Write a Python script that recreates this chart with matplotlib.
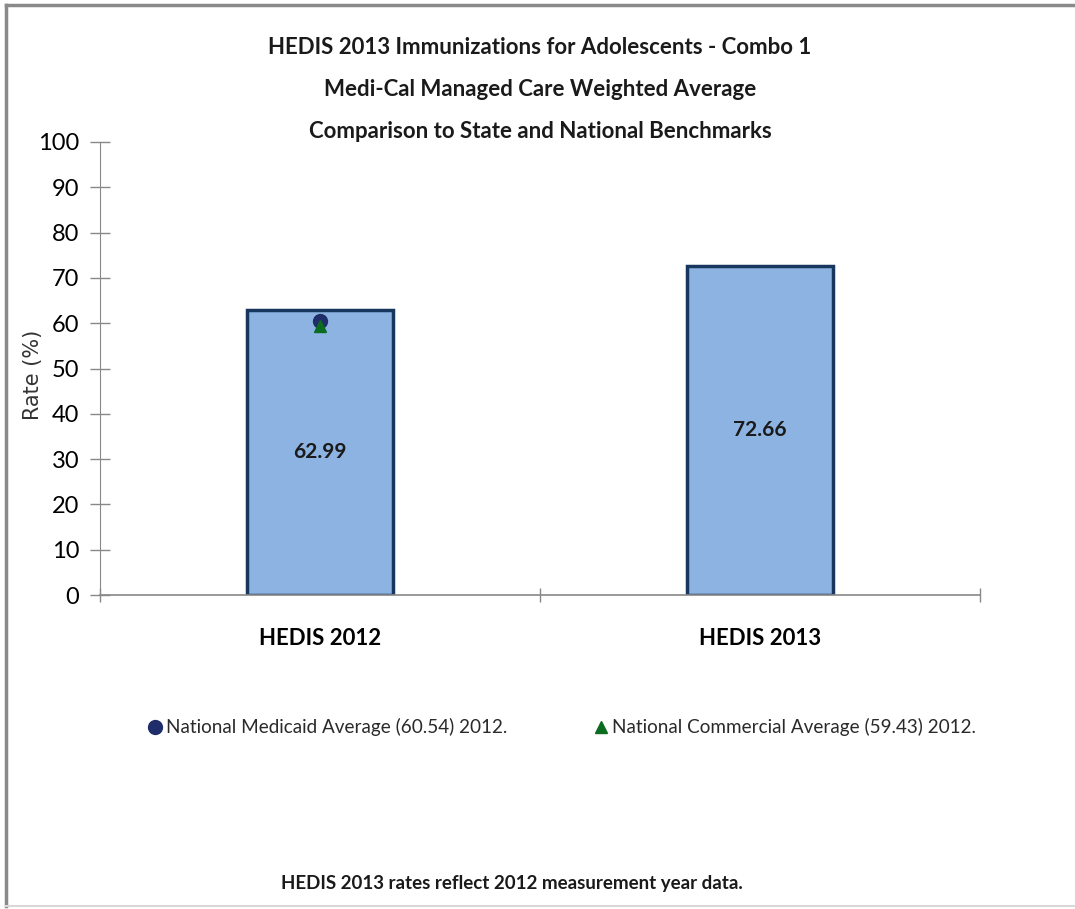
import matplotlib.pyplot as plt
from matplotlib.lines import Line2D

plt.rcParams['font.family'] = ['Lato', 'DejaVu Sans']

categories = ['HEDIS 2012', 'HEDIS 2013']
rates = [62.99, 72.66]
medicaid_avg = 60.54
commercial_avg = 59.43
yticks = list(range(0, 101, 10))

fig = plt.figure(figsize=(10.75, 9.09), dpi=100)
ax = fig.add_axes([100 / 1075, 1 - 595 / 909, 880 / 1075, 453 / 909])

x = list(range(len(categories)))
ax.bar(x, rates, width=0.33, color='#8DB3E2', edgecolor='#17375E', linewidth=2.5, zorder=2)
for xi, r in zip(x, rates):
    ax.text(xi, r / 2, f'{r:.2f}', ha='center', va='center', fontsize=15, fontweight='bold', color='#1a1a1a')

ax.plot([0], [medicaid_avg], 'o', color='#1F2D6B', markersize=10, zorder=3)
ax.plot([0], [commercial_avg], '^', color='#0B6B1E', markersize=9, zorder=4)

ax.set_xlim(-0.5, 1.5)
ax.set_ylim(0, 100)
ax.set_yticks(yticks)
ax.set_yticklabels([str(t) for t in yticks], fontsize=17)
ax.set_xticks([-0.5, 0.5, 1.5])
ax.set_xticklabels([])
ax.tick_params(axis='x', length=10, direction='inout', color='#888888', width=1)
ax.tick_params(axis='y', length=14, direction='inout', color='#888888', width=1, pad=8)
for xi, c in zip(x, categories):
    ax.text(xi, -9.5, c, ha='center', va='center', fontsize=16, fontweight='bold')

for s in ['top', 'right']:
    ax.spines[s].set_visible(False)
ax.spines['left'].set_color('#888888')
ax.spines['bottom'].set_color('#888888')
ax.spines['bottom'].set_linewidth(1.2)

fig.text(33 / 1075, 1 - 375 / 909, 'Rate (%)', rotation=90, ha='center', va='center',
         fontsize=15, family='DejaVu Sans', color='#333333')

title_lines = ['HEDIS 2013 Immunizations for Adolescents - Combo 1',
               'Medi-Cal Managed Care Weighted Average',
               'Comparison to State and National Benchmarks']
for i, t in enumerate(title_lines):
    fig.text(540 / 1075, 1 - (47 + 42 * i) / 909, t, ha='center', va='center',
             fontsize=16, fontweight='bold', color='#1a1a1a')

# legend row
fig.add_artist(Line2D([155 / 1075], [1 - 727 / 909], marker='o', color='#1F2D6B',
                      markersize=10, linestyle='none', transform=fig.transFigure))
fig.text(166 / 1075, 1 - 727 / 909, 'National Medicaid Average (60.54) 2012.', ha='left', va='center',
         fontsize=13.6, color='#2a2a2a')
fig.add_artist(Line2D([601 / 1075], [1 - 727 / 909], marker='^', color='#0B6B1E',
                      markersize=9, linestyle='none', transform=fig.transFigure))
fig.text(612 / 1075, 1 - 727 / 909, 'National Commercial Average (59.43) 2012.', ha='left', va='center',
         fontsize=13.6, color='#2a2a2a')

fig.text(512 / 1075, 1 - 884 / 909, 'HEDIS 2013 rates reflect 2012 measurement year data.',
         ha='center', va='center', fontsize=13.5, fontweight='bold', color='#1a1a1a')

# page frame: top and left darker, bottom faint
fig.add_artist(Line2D([6 / 1075, 1], [1 - 5 / 909, 1 - 5 / 909], color='#8a8a8a', linewidth=2.5,
                      transform=fig.transFigure))
fig.add_artist(Line2D([6 / 1075, 6 / 1075], [1 - 5 / 909, 1 - 906 / 909], color='#8a8a8a', linewidth=2.5,
                      transform=fig.transFigure))
fig.add_artist(Line2D([6 / 1075, 1], [1 - 906 / 909, 1 - 906 / 909], color='#d8d8d8', linewidth=1.5,
                      transform=fig.transFigure))

fig.savefig('out.png', dpi=100)
